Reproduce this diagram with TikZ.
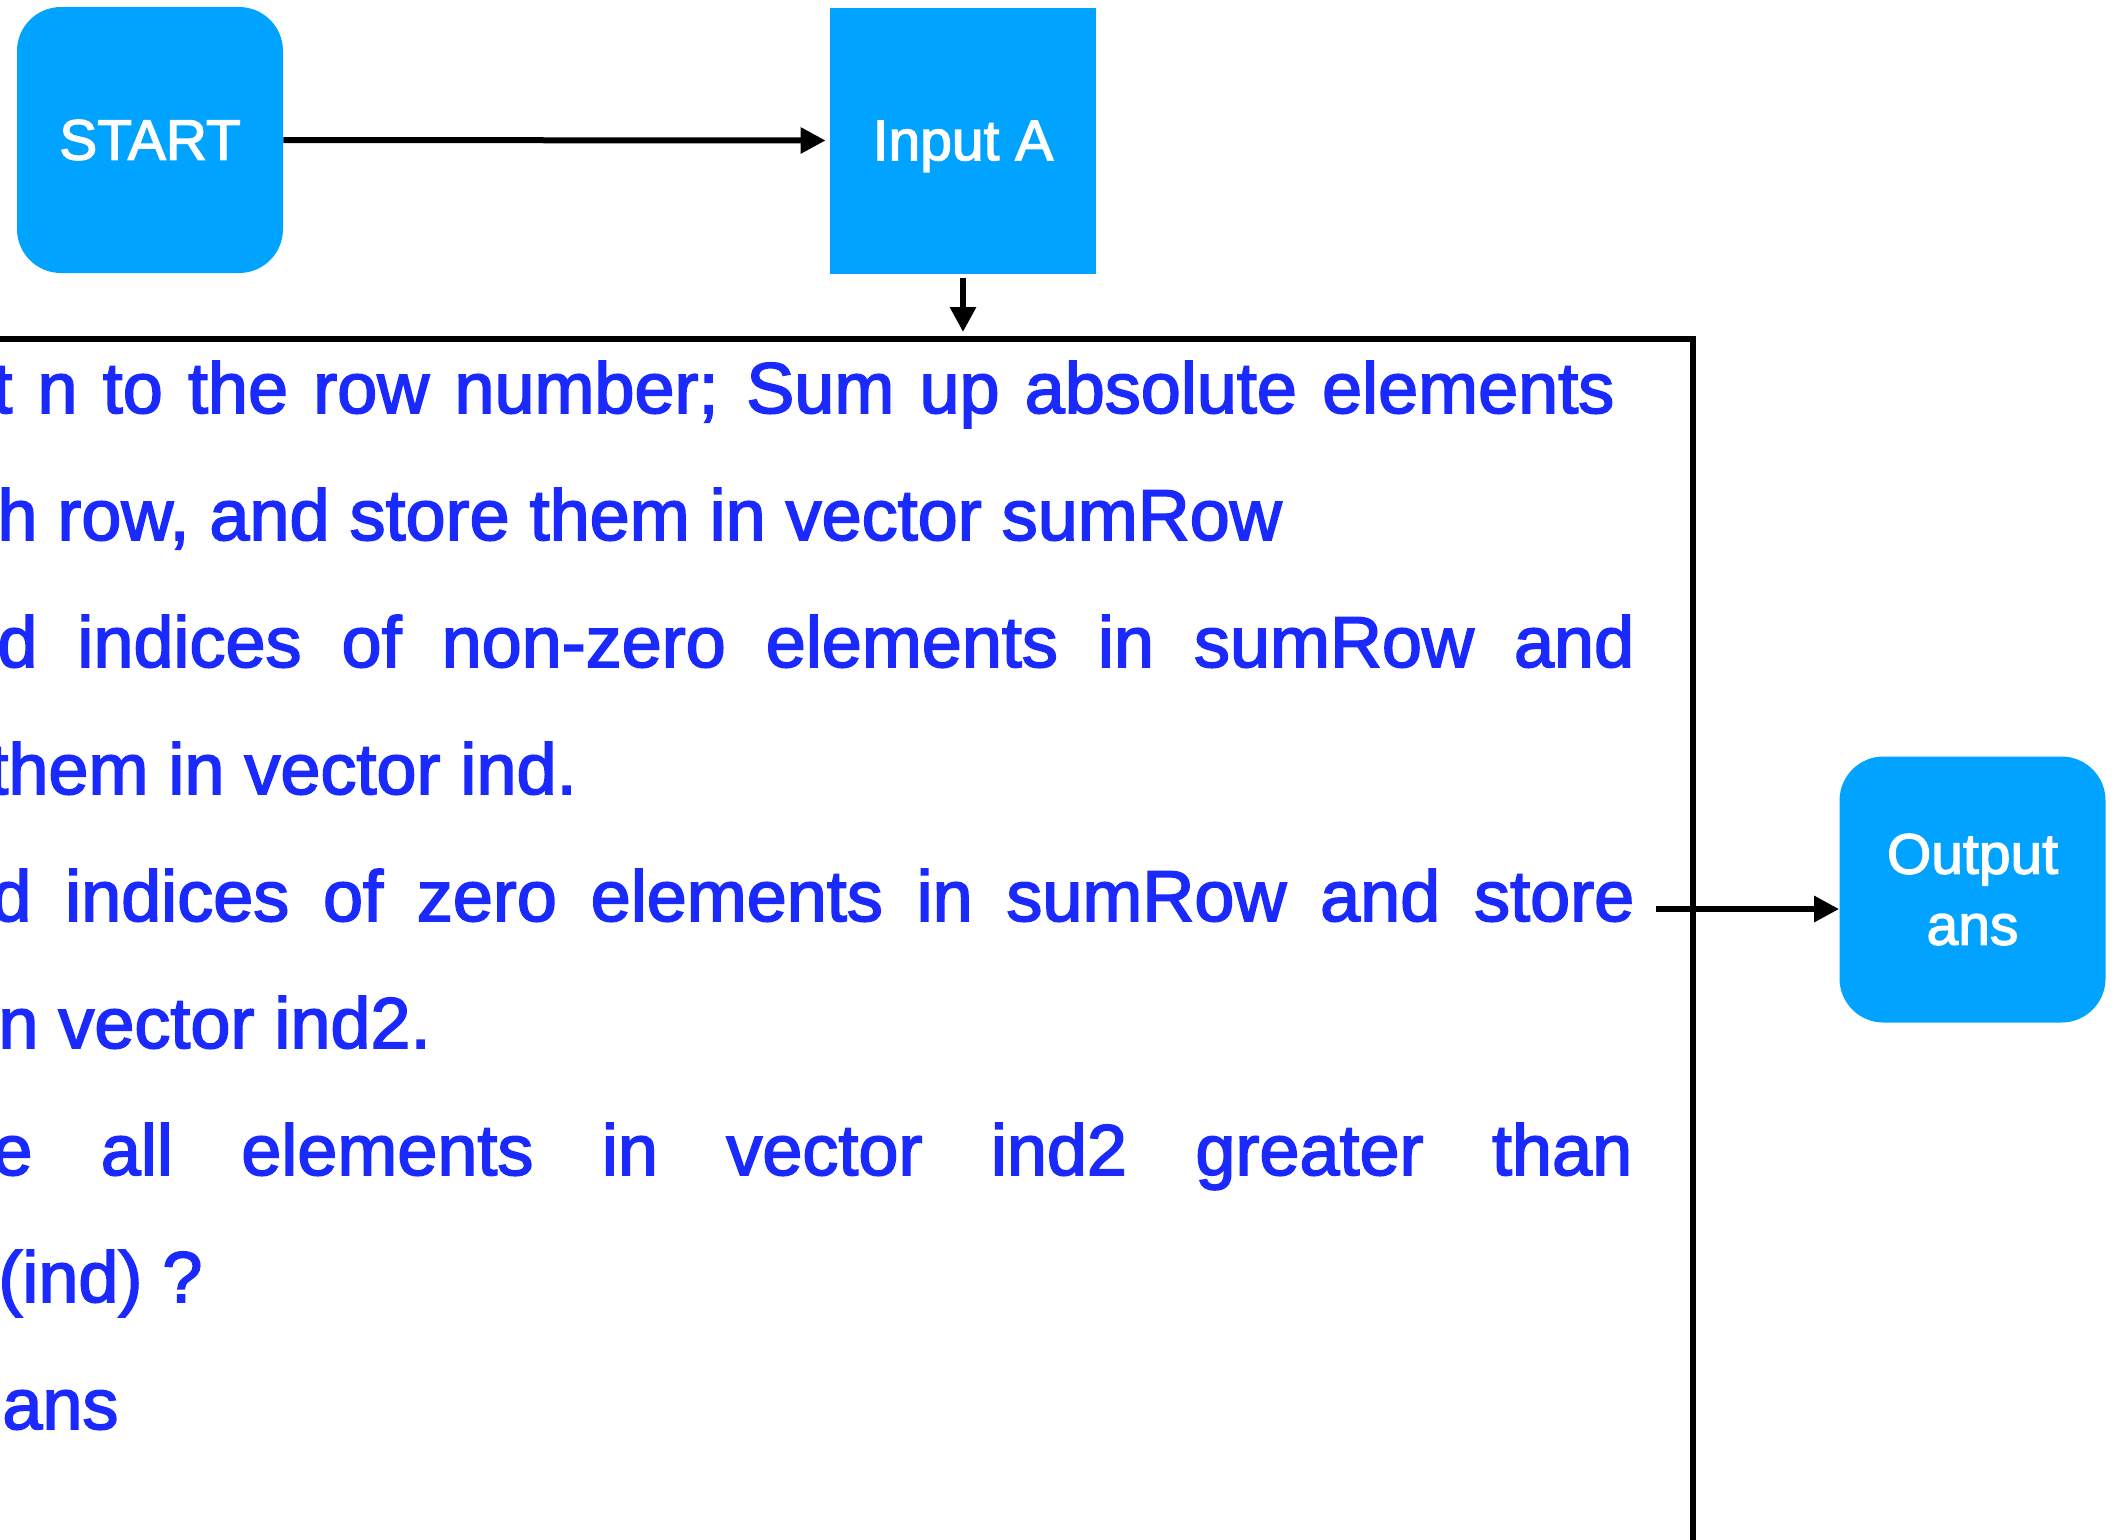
\documentclass[tikz,border=0pt]{standalone}
\usepackage{fontspec}
\usetikzlibrary{arrows.meta}
\newfontfamily\heavysans{Liberation Sans}[FakeBold=2.3]
\newcommand\stepfont{\heavysans\fontsize{36}{43}\selectfont}
\newcommand\tilefont{\heavysans\fontsize{28.5}{35.5}\selectfont}
\definecolor{tileblue}{RGB}{0,163,255}
\definecolor{inkblue}{RGB}{26,42,255}
\begin{document}
\begin{tikzpicture}[x=0.5pt,y=-0.5pt,
  flowbox/.style={fill=tileblue, draw=none, minimum width=133pt, minimum height=133pt,
    inner sep=0pt, font=\tilefont, text=white, align=center},
  roundbox/.style={flowbox, rounded corners=22pt},
  link/.style={line width=3pt, -{Triangle[length=12.5pt,width=12.5pt]}},
  stepline/.style={anchor=base west, inner sep=0pt, font=\stepfont, text=inkblue}]
\useasboundingbox (0,0) rectangle (2119,1539);
\clip (0,0) rectangle (2119,1539);

% terminal and input blocks
\node[roundbox] (start) at (150,140) {START};
\node[flowbox, text depth=0pt] (input) at (963,140.5) {Input A};
\node[roundbox] (output) at (1972.5,889.5) {Output\\ans};

% process frame
\draw[line width=2.9pt] (-20,339) -- (1693,339) -- (1693,1560);
\coordinate (frametop) at (963,339);
\coordinate (frameout) at (1656,909);

% process steps
\node[stepline] (l1) at (-8,413) {\makebox[811pt][s]{t n to the row number; Sum up absolute elements}};
\node[stepline] (l2) at (-3,540) {h row, and store them in vector sumRow};
\node[stepline] (l3) at (-3,667) {\makebox[818.5pt][s]{d indices of non-zero elements in sumRow and}};
\node[stepline] (l4) at (-12,794) {them in vector ind.};
\node[stepline] (l5) at (-9,921) {\makebox[821.5pt][s]{d indices of zero elements in sumRow and store}};
\node[stepline] (l6) at (-2,1048) {n vector ind2.};
\node[stepline] (l7) at (-8,1175) {\makebox[820pt][s]{e all elements in vector ind2 greater than}};
\node[stepline] (l8) at (-2,1302) {(ind) ?};
\node[stepline] (l9) at (2,1429) {ans};

% connectors
\draw[link, shorten >=2pt] (start.east) -- (input.west);
\draw[link, shorten <=2pt, shorten >=3.5pt] (input.south) -- (frametop);
\draw[link] (frameout) -- (frameout -| output.west);
\end{tikzpicture}
\end{document}
